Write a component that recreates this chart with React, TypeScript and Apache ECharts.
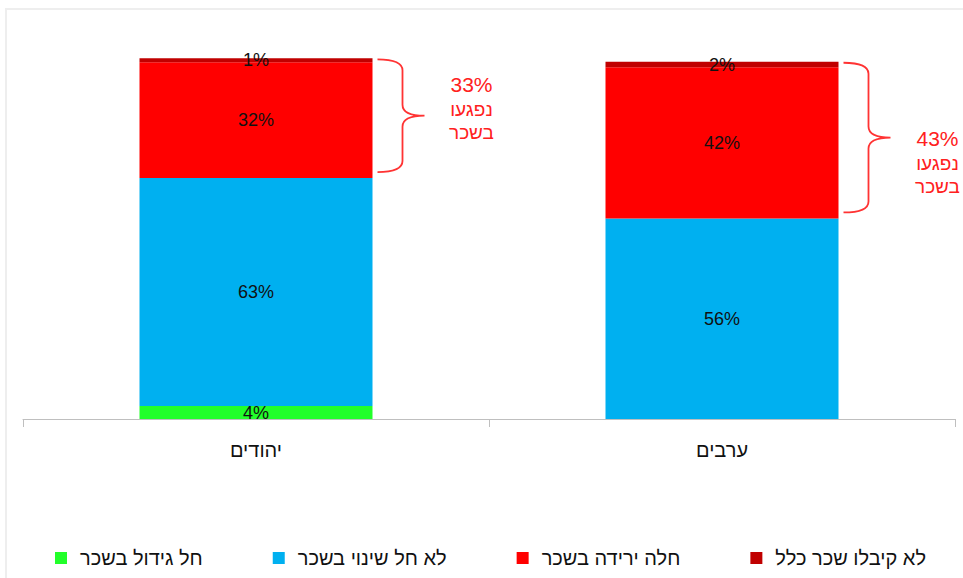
import React, { useEffect, useRef } from "react";
import * as echarts from "echarts";

const categories = ["יהודים", "ערבים"];
const seriesNames = ["חל גידול בשכר", "לא חל שינוי בשכר", "חלה ירידה בשכר", "לא קיבלו שכר כלל"];
const increased = [3.6, 0];
const noChange = [63.2, 55.6];
const decreased = [32.1, 41.9];
const noSalary = [1.1, 1.55];
const annotationLines = ["נפגעו", "בשכר"];
const seriesColors = ["#22ff2a", "#00b0f0", "#ff0000", "#c00000"];
// layout-only vertical offsets of the annotation text blocks (px)
const annotationOffsetY = [-6, 26];

const FONT = "'Liberation Sans', 'DejaVu Sans', Arial, sans-serif";

export default function App() {
  const ref = useRef<HTMLDivElement>(null);
  useEffect(() => {
    if (!ref.current) return;
    const chart = echarts.init(ref.current, undefined, { renderer: "svg" });
    const values = [increased, noChange, decreased, noSalary];
    const barSeries = seriesNames.map((name, i) => ({
      name,
      type: "bar",
      stack: "total",
      barWidth: "50%",
      data: values[i],
      itemStyle: { color: seriesColors[i] },
      label: {
        show: true,
        position: "inside",
        color: "#111",
        fontFamily: FONT,
        fontSize: 18,
        formatter: (p: any) => (p.value > 0 ? Math.round(p.value) + "%" : ""),
      },
    }));
    const braceData = categories.map((_, i) => [
      i,
      increased[i] + noChange[i],
      increased[i] + noChange[i] + decreased[i] + noSalary[i],
      Math.round(decreased[i] + noSalary[i]),
    ]);
    const braceSeries = {
      type: "custom",
      silent: true,
      z: 10,
      data: braceData,
      renderItem: (params: any, api: any) => {
        const idx = api.value(0);
        const lowPt = api.coord([idx, api.value(1)]);
        const highPt = api.coord([idx, api.value(2)]);
        const band = api.size([1, 0])[0];
        const right = lowPt[0] + band * 0.25;
        const x0 = right + 5;
        const x1 = x0 + 25;
        const x2 = x1 + 22;
        const top = highPt[1] + 1;
        const bot = lowPt[1] - 6;
        const mid = (top + bot) / 2;
        const r = 11;
        const d =
          `M${x0},${top} Q${x1},${top} ${x1},${top + r} L${x1},${mid - r} ` +
          `Q${x1},${mid} ${x2},${mid} Q${x1},${mid} ${x1},${mid + r} L${x1},${bot - r} ` +
          `Q${x1},${bot} ${x0},${bot}`;
        const tx = x2 + 47;
        const ty = mid + annotationOffsetY[idx];
        const txt = (text: string, y: number, size: number) => ({
          type: "text",
          style: {
            text,
            x: tx,
            y,
            align: "center",
            verticalAlign: "middle",
            fill: "#ff2020",
            fontFamily: FONT,
            fontSize: size,
          },
        });
        return {
          type: "group",
          children: [
            {
              type: "path",
              shape: { pathData: d },
              style: { fill: "none", stroke: "#ff3333", lineWidth: 1.8 },
            },
            txt(api.value(3) + "%", ty - 25, 21),
            txt(annotationLines[0], ty, 19),
            txt(annotationLines[1], ty + 23, 19),
          ],
        };
      },
    };
    chart.setOption({
      animation: false,
      backgroundColor: "#ffffff",
      graphic: [
        {
          type: "rect",
          shape: { x: 6, y: 9, width: 1000, height: 1000 },
          style: { fill: "none", stroke: "#eeeeee", lineWidth: 2 },
          silent: true,
          z: -10,
        },
      ],
      grid: { left: 23, right: 8, top: 58.3, bottom: 159, containLabel: false },
      legend: {
        data: seriesNames,
        left: 50,
        top: 543,
        itemWidth: 12,
        itemHeight: 12,
        itemGap: 70,
        icon: "rect",
        textStyle: {
          fontFamily: FONT,
          fontSize: 20,
          color: "#111",
          padding: [0, 0, 0, 8],
        },
      },
      xAxis: {
        type: "category",
        data: categories,
        axisLine: { lineStyle: { color: "#bfbfbf", width: 1 } },
        axisTick: { show: true, length: 8, lineStyle: { color: "#bfbfbf" } },
        axisLabel: { fontFamily: FONT, fontSize: 20, color: "#111", margin: 21 },
      },
      yAxis: { type: "value", min: 0, max: 100, show: false, splitLine: { show: false } },
      series: [...barSeries, braceSeries],
    });
    return () => chart.dispose();
  }, []);
  return (
    <div
      ref={ref}
      style={{ position: "fixed", left: 0, top: 0, width: 963, height: 578, background: "#fff" }}
    />
  );
}
